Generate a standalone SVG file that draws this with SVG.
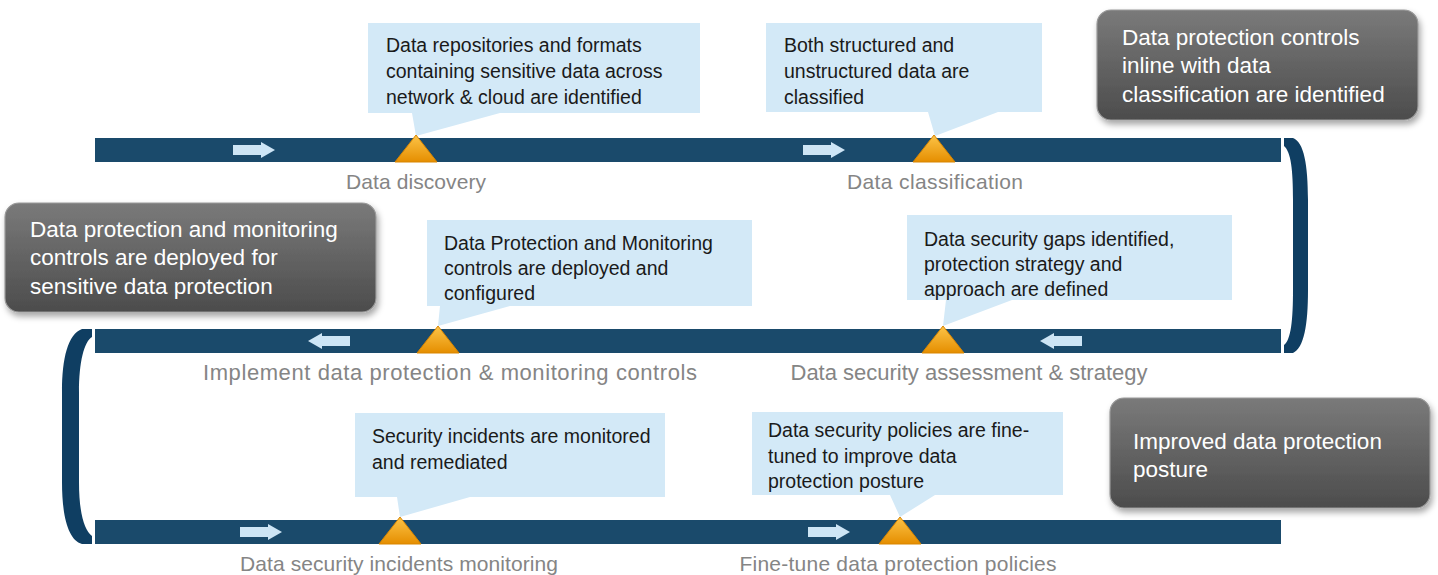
<svg xmlns="http://www.w3.org/2000/svg" width="1438" height="575" viewBox="0 0 1438 575">
<defs>
<linearGradient id="tri" x1="0" y1="0" x2="0" y2="1">
<stop offset="0" stop-color="#fcc448"/><stop offset="1" stop-color="#e58e00"/>
</linearGradient>
<linearGradient id="dark" x1="0" y1="0" x2="0" y2="1">
<stop offset="0" stop-color="#7a7a7a"/><stop offset="1" stop-color="#4c4c4c"/>
</linearGradient>
<filter id="sh" x="-10%" y="-10%" width="125%" height="130%">
<feDropShadow dx="2" dy="4" stdDeviation="3" flood-color="#000" flood-opacity="0.35"/>
</filter>
<path id="arrR" d="M0,-5 H28 V-8 L42,0 L28,8 V5 H0 Z"/>
<path id="arrL" d="M0,-5 H-28 V-8 L-42,0 L-28,8 V5 H0 Z"/>
<path id="triS" d="M0,0 L21,27 L-21,27 Z"/>
</defs>
<style>
.bar{fill:#1a4a6b}
.curve{fill:#0f3e62}
.arrow{fill:#cde5f5}
.tri{fill:url(#tri);stroke:#d98500;stroke-width:1}
.call{fill:#d3e9f7}
.ct{font-family:"Liberation Sans",Arial,sans-serif;font-size:19.5px;fill:#1a1a1a}
.dbox{fill:url(#dark);stroke:#9a9a9a;stroke-width:1.2;filter:url(#sh)}
.dt{font-family:"Liberation Sans",Arial,sans-serif;font-size:22.5px;fill:#ffffff}
.lbl{font-family:"Liberation Sans",Arial,sans-serif;font-size:21px;fill:#858585;text-anchor:middle}
.lbl2{font-size:22px}
</style>
<rect width="1438" height="575" fill="#ffffff"/>

<g id="connectors">
<rect class="bar" x="95" y="138" width="1186" height="24"/>
<rect class="bar" x="95" y="329" width="1186" height="24"/>
<rect class="bar" x="95" y="520" width="1186" height="24"/>
<path class="curve" d="M1284,138 H1293 C1304,142 1308,165 1308,200 L1308,290 C1308,325 1304,348 1293,353 H1284 V345 C1291,340 1293,320 1293,290 L1293,200 C1293,170 1291,152 1284,146 Z"/>
<path class="curve" d="M92,329 H82 C68,334 62,358 62,392 L62,482 C62,516 68,540 82,544 H92 V536 C84,530 79,512 79,482 L79,392 C79,362 84,342 92,337 Z"/>
<use href="#arrR" class="arrow" x="233" y="150"/>
<use href="#arrR" class="arrow" x="803" y="150"/>
<use href="#arrL" class="arrow" x="350" y="341"/>
<use href="#arrL" class="arrow" x="1082" y="341"/>
<use href="#arrR" class="arrow" x="240" y="532"/>
<use href="#arrR" class="arrow" x="808" y="532"/>
</g>

<g id="step-discovery">
<path class="call" d="M368,23 H700 V113 H500 L416,136 L412,113 H368 Z"/>
<text class="ct"><tspan x="386" y="52">Data repositories and formats</tspan><tspan x="386" y="78">containing sensitive data across</tspan><tspan x="386" y="104">network &amp; cloud are identified</tspan></text>
<use href="#triS" class="tri" x="416" y="135"/>
<text class="lbl" x="416" y="189" textLength="140">Data discovery</text>
</g>

<g id="step-classification">
<path class="call" d="M766,23 H1042 V112 H998 L935,136 L928,112 H766 Z"/>
<text class="ct"><tspan x="784" y="52">Both structured and</tspan><tspan x="784" y="78">unstructured data are</tspan><tspan x="784" y="104">classified</tspan></text>
<use href="#triS" class="tri" x="934" y="135"/>
<text class="lbl" x="935" y="189" textLength="176">Data classification</text>
</g>

<g id="outcome-classification">
<rect class="dbox" x="1097" y="10" width="321" height="110" rx="14"/>
<text class="dt"><tspan x="1122" y="45">Data protection controls</tspan><tspan x="1122" y="73">inline with data</tspan><tspan x="1122" y="102">classification are identified</tspan></text>
</g>

<g id="step-assessment">
<path class="call" d="M907,215 H1232 V300 H1012 L943,326 L946,300 H907 Z"/>
<text class="ct"><tspan x="924" y="246">Data security gaps identified,</tspan><tspan x="924" y="271">protection strategy and</tspan><tspan x="924" y="296">approach are defined</tspan></text>
<use href="#triS" class="tri" x="943" y="326"/>
<text class="lbl lbl2" x="969" y="380" textLength="357">Data security assessment &amp; strategy</text>
</g>

<g id="step-implement">
<path class="call" d="M427,220 H752 V306 H510 L438,326 L440,306 H427 Z"/>
<text class="ct"><tspan x="444" y="250">Data Protection and Monitoring</tspan><tspan x="444" y="275">controls are deployed and</tspan><tspan x="444" y="300">configured</tspan></text>
<use href="#triS" class="tri" x="438" y="326"/>
<text class="lbl lbl2" x="450" y="380" textLength="494">Implement data protection &amp; monitoring controls</text>
</g>

<g id="outcome-implement">
<rect class="dbox" x="5" y="203" width="371" height="109" rx="14"/>
<text class="dt"><tspan x="30" y="237">Data protection and monitoring</tspan><tspan x="30" y="265">controls are deployed for</tspan><tspan x="30" y="294">sensitive data protection</tspan></text>
</g>

<g id="step-monitoring">
<path class="call" d="M355,413 H665 V497 H470 L400,517 L397,497 H355 Z"/>
<text class="ct"><tspan x="372" y="443">Security incidents are monitored</tspan><tspan x="372" y="469">and remediated</tspan></text>
<use href="#triS" class="tri" x="400" y="517"/>
<text class="lbl" x="399" y="571" textLength="318">Data security incidents monitoring</text>
</g>

<g id="step-finetune">
<path class="call" d="M752,412 H1063 V495 H935 L900,517 L890,495 H752 Z"/>
<text class="ct"><tspan x="768" y="437">Data security policies are fine-</tspan><tspan x="768" y="463">tuned to improve data</tspan><tspan x="768" y="488">protection posture</tspan></text>
<use href="#triS" class="tri" x="900" y="517"/>
<text class="lbl" x="898" y="571" textLength="317">Fine-tune data protection policies</text>
</g>

<g id="outcome-posture">
<rect class="dbox" x="1110" y="398" width="320" height="110" rx="14"/>
<text class="dt"><tspan x="1133" y="449">Improved data protection</tspan><tspan x="1133" y="477">posture</tspan></text>
</g>
</svg>
